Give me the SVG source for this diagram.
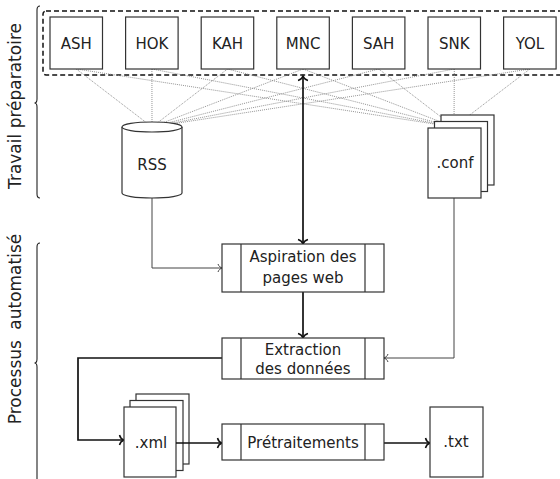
<svg xmlns="http://www.w3.org/2000/svg" width="560" height="479" viewBox="0 0 560 479">
<defs>
<style>
.box{fill:#fff;stroke:#333;stroke-width:1.2}
.lbl{font-family:"DejaVu Sans",sans-serif;font-size:15px;fill:#222;text-anchor:middle}
.plbl{font-family:"DejaVu Sans",sans-serif;font-size:15px;fill:#222;text-anchor:middle}
.side{font-family:"DejaVu Sans",sans-serif;font-size:17px;fill:#222;text-anchor:middle}
.dot{fill:none;stroke:#888;stroke-width:0.9;stroke-dasharray:1 1}
.thin{fill:none;stroke:#444;stroke-width:1;marker-end:url(#aThin)}
.thick{fill:none;stroke:#111;stroke-width:1.7;marker-end:url(#aThick)}
.brace{fill:none;stroke:#222;stroke-width:1.1}
</style>
<marker id="aThin" markerUnits="userSpaceOnUse" viewBox="-6 -6 8 12" markerWidth="8" markerHeight="12" refX="0" refY="0" orient="auto-start-reverse" overflow="visible">
<path d="M -4,-4 C -3.3,-1.6 -1.2,-0.4 0,0 C -1.2,0.4 -3.3,1.6 -4,4" fill="none" stroke="#444" stroke-width="1"/>
</marker>
<marker id="aThick" markerUnits="userSpaceOnUse" viewBox="-6 -6 8 12" markerWidth="8" markerHeight="12" refX="0" refY="0" orient="auto-start-reverse" overflow="visible">
<path d="M -4.5,-5 C -3.8,-2 -1.4,-0.5 0,0 C -1.4,0.5 -3.8,2 -4.5,5" fill="none" stroke="#111" stroke-width="1.5"/>
</marker>
</defs>
<rect width="560" height="479" fill="#fff"/>

<g id="braces">
<path class="brace" d="M 40,6 Q 37,6 37,10 L 37,99 Q 37,103 34.5,103 Q 37,103 37,107 L 37,194 Q 37,198 40,198"/>
<path class="brace" d="M 40,243 Q 37,243 37,247 L 37,359 Q 37,363 34.5,363 Q 37,363 37,367 L 37,480"/>
<text class="side" transform="translate(21,106) rotate(-90)">Travail préparatoire</text>
<text class="side" style="word-spacing:5px" transform="translate(21,329) rotate(-90)">Processus automatisé</text>
</g>

<g id="sources-group">
<rect x="43" y="11" width="530" height="64" rx="3" fill="none" stroke="#111" stroke-width="1.5" stroke-dasharray="5 3"/>
</g>

<g id="connectors">
<g id="dotted">
<path class="dot" d="M76.3,69 L152,127 M151.9,69 L152,127 M227.5,69 L152,127 M303.1,69 L152,127 M378.7,69 L152,127 M454.3,69 L152,127 M529.9,69 L152,127"/>
<path class="dot" d="M76.3,69 L454,127 M151.9,69 L454,127 M227.5,69 L454,127 M303.1,69 L454,127 M378.7,69 L454,127 M454.3,69 L454,127 M529.9,69 L454,127"/>
</g>
<path class="thin" d="M152,198 L152,268 L222,268"/>
<path class="thin" d="M454,198 L454,358 L384,358"/>
<path class="thick" style="marker-start:url(#aThick)" d="M303,76 L303,244"/>
<path class="thick" d="M303,292 L303,338"/>
<path class="thick" d="M222,358 L78,358 L78,440 L124,440"/>
<path class="thick" d="M384,443 L430,443"/>
</g>

<g id="ASH"><rect class="box" x="50" y="17" width="52.5" height="52"/><text class="lbl" x="76.3" y="49">ASH</text></g>
<g id="HOK"><rect class="box" x="125.6" y="17" width="52.5" height="52"/><text class="lbl" x="151.9" y="49">HOK</text></g>
<g id="KAH"><rect class="box" x="201.2" y="17" width="52.5" height="52"/><text class="lbl" x="227.5" y="49">KAH</text></g>
<g id="MNC"><rect class="box" x="276.8" y="17" width="52.5" height="52"/><text class="lbl" x="303.1" y="49">MNC</text></g>
<g id="SAH"><rect class="box" x="352.4" y="17" width="52.5" height="52"/><text class="lbl" x="378.7" y="49">SAH</text></g>
<g id="SNK"><rect class="box" x="428" y="17" width="52.5" height="52"/><text class="lbl" x="454.3" y="49">SNK</text></g>
<g id="YOL"><rect class="box" x="503.6" y="17" width="52.5" height="52"/><text class="lbl" x="529.9" y="49">YOL</text></g>

<g id="RSS">
<path class="box" d="M122,127 L122,193 A30,5 0 0 0 182,193 L182,127"/>
<ellipse class="box" cx="152" cy="127" rx="30" ry="5"/>
<text class="lbl" x="152" y="170">RSS</text>
</g>

<g id="conf">
<rect class="box" x="441" y="115" width="53" height="70"/>
<rect class="box" x="434.5" y="121.5" width="53" height="70"/>
<rect class="box" x="428" y="128" width="53" height="70"/>
<text class="lbl" x="455" y="168">.conf</text>
</g>

<g id="aspiration">
<rect class="box" x="222" y="244" width="162" height="48"/>
<path class="box" d="M241,244 L241,292 M365,244 L365,292"/>
<text class="plbl" x="303" y="262">Aspiration des</text>
<text class="plbl" x="303" y="283">pages web</text>
</g>

<g id="extraction">
<rect class="box" x="222" y="338" width="162" height="41"/>
<path class="box" d="M241,338 L241,379 M365,338 L365,379"/>
<text class="plbl" x="303" y="354.5">Extraction</text>
<text class="plbl" x="303" y="373.5">des données</text>
</g>

<g id="xml">
<rect class="box" x="136" y="394" width="53" height="70"/>
<rect class="box" x="130" y="400.5" width="53" height="70"/>
<rect class="box" x="124" y="407" width="52" height="70"/>
<text class="lbl" x="151" y="448">.xml</text>
</g>
<g id="xml-connector">
<path class="thick" d="M176,443 L222,443"/>
</g>

<g id="pretraitements">
<rect class="box" x="222" y="424" width="162" height="36"/>
<path class="box" d="M241,424 L241,460 M365,424 L365,460"/>
<text class="plbl" x="303" y="448">Prétraitements</text>
</g>

<g id="txt">
<rect class="box" x="430" y="407" width="53" height="70"/>
<text class="lbl" x="456" y="447">.txt</text>
</g>
</svg>
